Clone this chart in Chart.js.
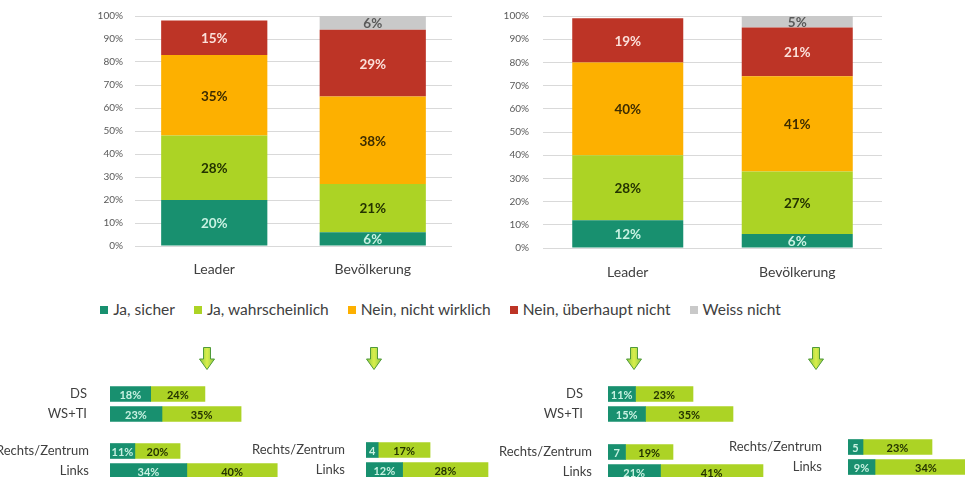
<!DOCTYPE html>
<html lang="de">
<head>
<meta charset="utf-8">
<title>Umfrage Leader / Bevölkerung</title>
<script src="https://cdn.jsdelivr.net/npm/chart.js@4.4.1/dist/chart.umd.min.js"></script>
<style>
  html, body { margin: 0; padding: 0; background: #fff; }
  #lienzo { position: relative; width: 965px; height: 477px; overflow: hidden; font-family: Lato, "Liberation Sans", sans-serif; }
  canvas { position: absolute; }
  #leyenda { position: absolute; top: 300px; left: 0; width: 881px; display: flex; justify-content: center; gap: 19px; font-size: 15.5px; color: #404040; white-space: nowrap; }
  #leyenda i { display: inline-block; width: 8px; height: 8px; margin-right: 5px; vertical-align: 1px; }
  .flecha { position: absolute; top: 347px; }
</style>
</head>
<body>
<div id="lienzo">
  <canvas id="izq" width="392" height="290" style="left:60px;top:0"></canvas>
  <canvas id="der" width="412" height="292" style="left:470px;top:0"></canvas>
  <div id="leyenda"></div>

  <svg class="flecha" style="left:199px" width="16" height="23" viewBox="0 0 16 23">
    <defs>
      <linearGradient id="verde" x1="0" x2="1" y1="0" y2="0">
        <stop offset="0" stop-color="#8ec63f"/>
        <stop offset="0.5" stop-color="#d9ef4c"/>
        <stop offset="1" stop-color="#8ec63f"/>
      </linearGradient>
    </defs>
    <path d="M4.5 0.5 H11.5 V12 H15.5 L8 22.5 L0.5 12 H4.5 Z" fill="url(#verde)" stroke="#4f9a3a"/>
  </svg>
  <svg class="flecha" style="left:366px" width="16" height="23" viewBox="0 0 16 23"><path d="M4.5 0.5 H11.5 V12 H15.5 L8 22.5 L0.5 12 H4.5 Z" fill="url(#verde)" stroke="#4f9a3a"/></svg>
  <svg class="flecha" style="left:626px" width="16" height="23" viewBox="0 0 16 23"><path d="M4.5 0.5 H11.5 V12 H15.5 L8 22.5 L0.5 12 H4.5 Z" fill="url(#verde)" stroke="#4f9a3a"/></svg>
  <svg class="flecha" style="left:808px" width="16" height="23" viewBox="0 0 16 23"><path d="M4.5 0.5 H11.5 V12 H15.5 L8 22.5 L0.5 12 H4.5 Z" fill="url(#verde)" stroke="#4f9a3a"/></svg>

  <canvas id="a1" width="336" height="40" style="left:0;top:384px"></canvas>
  <canvas id="a2" width="376" height="40" style="left:-40px;top:441px"></canvas>
  <canvas id="b" width="431" height="40" style="left:240px;top:440px"></canvas>
  <canvas id="c1" width="378" height="40" style="left:480px;top:384px"></canvas>
  <canvas id="c2" width="378" height="40" style="left:480px;top:442px"></canvas>
  <canvas id="d" width="428" height="40" style="left:720px;top:437px"></canvas>
</div>

<script>
const categorias = ["Leader", "Bevölkerung"];
const respuestas = ["Ja, sicher", "Ja, wahrscheinlich", "Nein, nicht wirklich", "Nein, überhaupt nicht", "Weiss nicht"];
const marcasY = [0, 10, 20, 30, 40, 50, 60, 70, 80, 90, 100];

// grafica izquierda (arriba)
const izqSicher = [20, 6];
const izqWahrscheinlich = [28, 21];
const izqNichtWirklich = [35, 38];
const izqUeberhaupt = [15, 29];
const izqWeiss = [null, 6];

// grafica derecha (arriba)
const derSicher = [12, 6];
const derWahrscheinlich = [28, 27];
const derNichtWirklich = [40, 41];
const derUeberhaupt = [19, 21];
const derWeiss = [null, 5];

// barras de abajo
const filasSchule = ["DS", "WS+TI"];
const filasPolitik = ["Rechts/Zentrum", "Links"];
const aSchuleSicher = [18, 23];
const aSchuleWahr = [24, 35];
const aPolitikSicher = [11, 34];
const aPolitikWahr = [20, 40];
const bPolitikSicher = [4, 12];
const bPolitikWahr = [17, 28];
const cSchuleSicher = [11, 15];
const cSchuleWahr = [23, 35];
const cPolitikSicher = [7, 21];
const cPolitikWahr = [19, 41];
const dPolitikSicher = [5, 9];
const dPolitikWahr = [23, 34];

const colores = ["#18906f", "#acd325", "#fdb000", "#bd3426", "#c9c9c9"];
const coloresTexto = ["#c8f1e2", "#243300", "#3d2c00", "#fbe0da", "#5a5a5a"];
const fuente = "Lato, 'Liberation Sans', sans-serif";

Chart.defaults.font.family = fuente;

//plugin que escribe el valor dentro de cada barra
const etiquetas = {
  id: "etiquetas",
  afterDatasetsDraw(chart, args, opts) {
    const ctx = chart.ctx;
    const horizontal = chart.options.indexAxis === "y";
    ctx.save();
    ctx.font = "bold " + opts.size + "px " + fuente;
    ctx.textAlign = "center";
    ctx.textBaseline = "middle";
    chart.data.datasets.forEach((ds, i) => {
      chart.getDatasetMeta(i).data.forEach((barra, j) => {
        const v = ds.data[j];
        if (v == null) return;
        const c = barra.getCenterPoint();
        const largo = Math.abs(barra.x - barra.base);
        const texto = horizontal && largo < 20 ? String(v) : v + "%";
        ctx.fillStyle = coloresTexto[i];
        ctx.fillText(texto, c.x, c.y + 1);
      });
    });
    ctx.restore();
  }
};

//grafica de columnas apiladas
function graficaApilada(id, valores, anchoBarra, anchoEje, padY, padX) {
  const datasets = valores.map((data, i) => ({
    label: respuestas[i],
    data,
    backgroundColor: colores[i],
    barPercentage: anchoBarra,
    categoryPercentage: 1
  }));
  new Chart(document.getElementById(id), {
    type: "bar",
    data: { labels: categorias, datasets },
    options: {
      responsive: false,
      animation: false,
      layout: { padding: { top: 16, right: 0, bottom: 0, left: 0 } },
      plugins: { legend: { display: false }, tooltip: { enabled: false }, etiquetas: { size: 13.5 } },
      scales: {
        x: {
          stacked: true,
          grid: { display: false },
          border: { display: false },
          ticks: { padding: padX, color: "#404040", font: { size: 14 } },
          afterFit: (s) => { s.height = 44; }
        },
        y: {
          stacked: true,
          min: 0,
          max: 100,
          grid: { color: "#d9d9d9", drawTicks: false },
          border: { display: false },
          ticks: { padding: padY, color: "#595959", font: { size: 10 }, callback: (v) => v + "%" },
          afterBuildTicks: (s) => { s.ticks = marcasY.map((v) => ({ value: v })); },
          afterFit: (s) => { s.width = anchoEje; s.paddingTop = 0; s.paddingBottom = 0; }
        }
      }
    },
    plugins: [etiquetas]
  });
}

//barras horizontales pequeñas
function barrasHorizontales(id, filas, sicher, wahr, maxX, anchoEje, padEtiqueta) {
  new Chart(document.getElementById(id), {
    type: "bar",
    data: {
      labels: filas,
      datasets: [
        { label: respuestas[0], data: sicher, backgroundColor: colores[0], barThickness: 15 },
        { label: respuestas[1], data: wahr, backgroundColor: colores[1], barThickness: 15 }
      ]
    },
    options: {
      indexAxis: "y",
      responsive: false,
      animation: false,
      layout: { padding: 0 },
      plugins: { legend: { display: false }, tooltip: { enabled: false }, etiquetas: { size: 11 } },
      scales: {
        x: { stacked: true, display: false, min: 0, max: maxX },
        y: {
          stacked: true,
          grid: { display: false },
          border: { display: false },
          ticks: { padding: padEtiqueta, color: "#404040", font: { size: 13 } },
          afterFit: (s) => { s.width = anchoEje; s.paddingTop = 0; s.paddingBottom = 0; }
        }
      }
    },
    plugins: [etiquetas]
  });
}

graficaApilada("izq", [izqSicher, izqWahrscheinlich, izqNichtWirklich, izqUeberhaupt, izqWeiss], 0.67, 75, 12, 7);
graficaApilada("der", [derSicher, derWahrscheinlich, derNichtWirklich, derUeberhaupt, derWeiss], 0.655, 73, 14, 8);

barrasHorizontales("a1", filasSchule, aSchuleSicher, aSchuleWahr, 100, 110, 15);
barrasHorizontales("a2", filasPolitik, aPolitikSicher, aPolitikWahr, 100, 150, 13);
barrasHorizontales("b", filasPolitik, bPolitikSicher, bPolitikWahr, 100, 126, 13);
barrasHorizontales("c1", filasSchule, cSchuleSicher, cSchuleWahr, 100, 128, 17);
barrasHorizontales("c2", filasPolitik, cPolitikSicher, cPolitikWahr, 100, 128, 8);
barrasHorizontales("d", filasPolitik, dPolitikSicher, dPolitikWahr, 100, 128, 18);

//leyenda comun
const leyenda = document.getElementById("leyenda");
respuestas.forEach((r, i) => {
  const item = document.createElement("span");
  item.innerHTML = `<i style="background:${colores[i]}"></i>${r}`;
  leyenda.appendChild(item);
});
</script>
</body>
</html>
